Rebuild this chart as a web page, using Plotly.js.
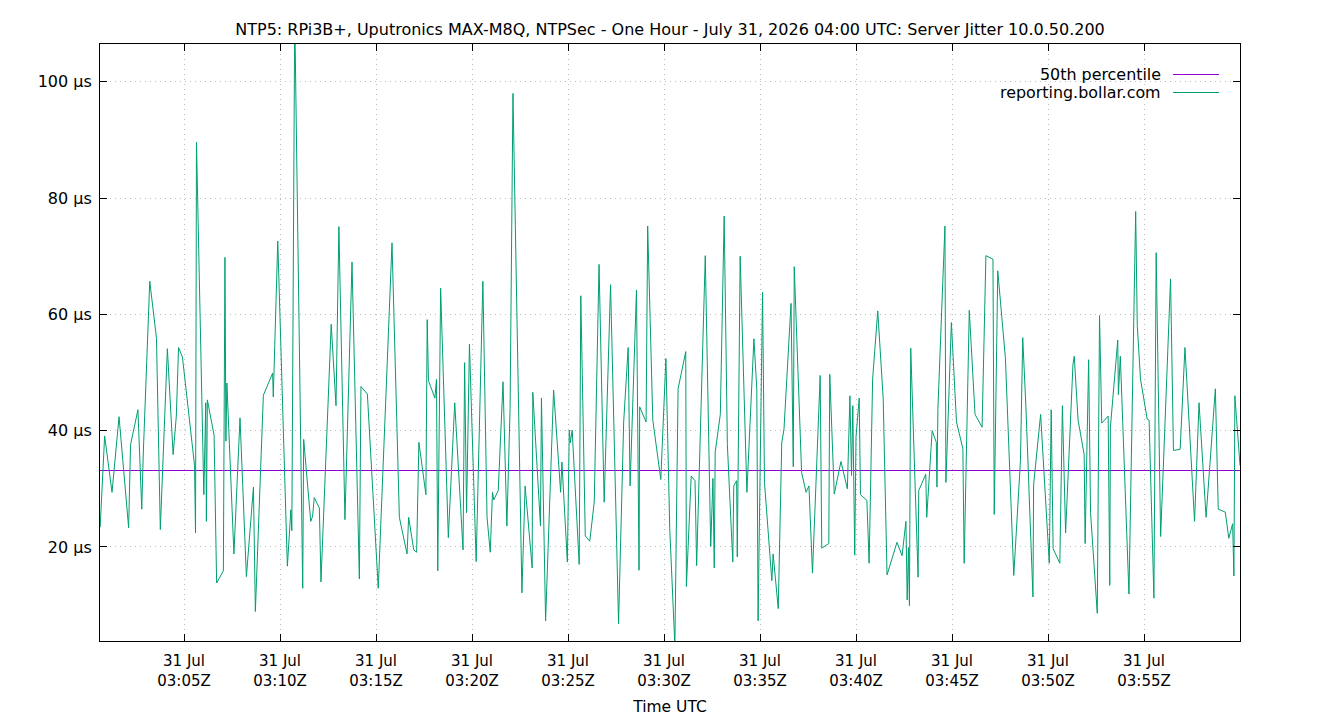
<!DOCTYPE html>
<html>
<head>
<meta charset="utf-8">
<script src="https://cdn.plot.ly/plotly-3.0.1.min.js"></script>
<style>html,body{margin:0;padding:0;background:#fff}#chart{width:1340px;height:720px}</style>
</head>
<body>
<div id="chart"></div>
<script>
const DAY = '2026-07-31 ';
const chartTitle = 'NTP5: RPi3B+, Uputronics MAX-M8Q, NTPSec - One Hour - July 31, 2026 04:00 UTC: Server Jitter 10.0.50.200';
const seriesName = 'reporting.bollar.com';
const percentileName = '50th percentile';
const percentile50 = 33.15;
const rangeStart = '03:00:37.5';
const rangeEnd = '04:00:00';
const xTickTimes = ['03:05','03:10','03:15','03:20','03:25','03:30','03:35','03:40','03:45','03:50','03:55'];
const yTicks = [20, 40, 60, 80, 100];

const times = [
"03:00:38","03:00:52","03:01:15","03:01:37","03:02:07","03:02:13","03:02:36","03:02:48","03:02:53","03:03:13",
"03:03:34","03:03:46","03:04:08","03:04:26","03:04:36","03:04:43","03:04:55","03:05:33","03:05:36","03:05:39",
"03:06:02","03:06:08","03:06:10","03:06:13","03:06:34","03:06:42","03:07:03","03:07:08","03:07:11","03:07:14",
"03:07:36","03:07:55","03:08:15","03:08:37","03:08:43","03:09:08","03:09:37","03:09:39","03:09:53","03:10:23",
"03:10:34","03:10:37","03:10:46","03:11:11","03:11:14","03:11:36","03:11:42","03:11:47","03:12:03","03:12:08",
"03:12:40","03:12:55","03:13:04","03:13:23","03:13:45","03:14:08","03:14:13","03:14:33","03:15:07","03:15:50",
"03:16:13","03:16:37","03:16:42","03:16:58","03:17:07","03:17:14","03:17:36","03:17:40","03:17:44","03:18:04",
"03:18:09","03:18:13","03:18:22","03:18:46","03:19:06","03:19:32","03:19:37","03:19:43","03:19:52","03:20:13",
"03:20:34","03:20:47","03:20:57","03:21:04","03:21:08","03:21:22","03:21:37","03:21:49","03:21:59","03:22:08",
"03:22:36","03:22:46","03:23:08","03:23:10","03:23:34","03:23:37","03:23:50","03:24:15","03:24:37","03:24:41",
"03:24:58","03:25:04","03:25:07","03:25:13","03:25:35","03:25:40","03:25:54","03:26:08","03:26:22","03:26:37",
"03:26:53","03:27:13","03:27:38","03:27:54","03:28:08","03:28:14","03:28:34","03:28:42","03:28:44","03:29:04",
"03:29:09","03:29:25","03:29:50","03:30:06","03:30:18","03:30:34","03:30:44","03:31:08","03:31:10","03:31:25",
"03:31:37","03:31:42","03:32:09","03:32:26","03:32:33","03:32:37","03:32:40","03:32:56","03:33:08","03:33:18",
"03:33:35","03:33:38","03:33:47","03:33:49","03:33:58","03:34:19","03:34:41","03:34:50","03:34:54","03:35:08",
"03:35:14","03:35:37","03:35:41","03:35:57","03:36:08","03:36:15","03:36:37","03:36:44","03:36:47","03:37:10",
"03:37:24","03:37:33","03:37:44","03:38:08","03:38:13","03:38:35","03:38:38","03:38:52","03:39:13","03:39:33",
"03:39:41","03:39:46","03:39:50","03:39:56","03:40:00","03:40:10","03:40:14","03:40:34","03:40:41","03:40:52",
"03:41:08","03:41:25","03:41:37","03:41:56","03:42:08","03:42:24","03:42:36","03:42:40","03:42:44","03:42:47",
"03:42:51","03:43:14","03:43:16","03:43:38","03:43:41","03:43:58","03:44:11","03:44:13","03:44:16","03:44:38",
"03:44:41","03:44:58","03:45:14","03:45:34","03:45:38","03:45:54","03:46:12","03:46:34","03:46:46","03:47:08",
"03:47:12","03:47:23","03:47:47","03:48:13","03:48:34","03:48:41","03:48:51","03:49:13","03:49:15","03:49:37",
"03:50:04","03:50:10","03:50:16","03:50:37","03:50:45","03:50:55","03:51:18","03:51:22","03:51:34","03:51:53",
"03:51:56","03:52:07","03:52:13","03:52:34","03:52:41","03:52:48","03:53:08","03:53:13","03:53:15","03:53:38",
"03:53:40","03:53:46","03:54:08","03:54:13","03:54:34","03:54:39","03:54:49","03:55:10","03:55:16","03:55:31",
"03:55:38","03:55:52","03:56:23","03:56:32","03:56:53","03:57:08","03:57:38","03:57:52","03:58:14","03:58:43",
"03:58:52","03:59:14","03:59:25","03:59:37","03:59:41","03:59:44","04:00:00"
];

const jitterUs = [
23.4, 39.1, 29.4, 42.4, 23.3, 37.6, 43.6, 26.5, 36.5, 65.7,
55.9, 23.0, 54.1, 35.9, 42.5, 54.3, 52.7, 34.0, 22.4, 89.6,
29.0, 44.8, 24.4, 45.3, 39.2, 13.8, 15.9, 69.8, 38.2, 48.2,
18.8, 42.2, 14.9, 30.3, 8.9, 46.1, 49.9, 45.8, 72.6, 16.7,
26.4, 22.8, 112, 12.9, 38.5, 24.4, 25.3, 28.5, 26.7, 14.0,
58.3, 44.3, 75.1, 24.7, 69.0, 14.5, 47.6, 46.3, 12.9, 72.3,
25.1, 18.8, 25.1, 19.5, 19.1, 38.0, 29.0, 59.1, 48.6, 45.6,
48.8, 15.9, 64.5, 21.6, 44.8, 19.5, 51.7, 25.9, 54.9, 17.5,
65.7, 25.1, 19.1, 29.4, 28.1, 29.7, 48.4, 23.6, 43.8, 98.0,
12.1, 30.5, 16.4, 46.6, 23.6, 45.6, 7.3, 47.0, 29.4, 34.6,
17.4, 40.1, 37.9, 40.1, 17.0, 63.2, 21.9, 21.0, 27.7, 68.6,
27.7, 65.1, 6.8, 41.5, 54.3, 30.5, 64.2, 16.0, 44.1, 41.5,
75.2, 41.8, 31.6, 52.4, 23.1, 3.0, 47.2, 53.6, 13.2, 32.2,
31.4, 16.8, 70.1, 20.1, 31.8, 16.4, 36.3, 42.8, 76.9, 37.6,
17.4, 30.5, 31.4, 18.3, 70.0, 29.4, 55.8, 47.1, 7.3, 63.8,
31.1, 14.2, 18.8, 9.4, 37.9, 40.3, 61.9, 33.8, 68.2, 32.8,
29.4, 30.5, 15.5, 49.5, 19.8, 20.6, 49.7, 29.1, 34.7, 30.0,
46.0, 32.3, 44.3, 18.6, 38.9, 45.6, 29.0, 28.0, 17.2, 48.9,
60.6, 45.5, 15.2, 18.8, 20.8, 18.5, 24.4, 10.9, 19.9, 9.9,
54.2, 14.8, 29.7, 32.5, 25.1, 40.0, 38.0, 30.3, 43.8, 75.2,
31.1, 58.6, 41.5, 36.9, 17.2, 60.7, 42.8, 40.6, 70.1, 69.5,
25.6, 67.5, 52.4, 15.1, 34.9, 56.0, 44.1, 11.4, 30.7, 42.8,
17.2, 43.6, 19.7, 17.2, 44.3, 22.4, 51.4, 52.8, 41.8, 35.9,
20.6, 52.2, 25.9, 8.6, 59.8, 41.3, 42.5, 13.4, 40.6, 55.6,
46.2, 52.8, 17.2, 11.9, 77.7, 58.1, 48.9, 42.0, 41.8, 11.2,
70.6, 21.8, 66.1, 36.6, 36.8, 54.3, 24.4, 44.8, 25.1, 47.2,
26.5, 26.0, 21.5, 24.0, 15.0, 46.0, 34.0
];

const GREEN = '#009e73';
const PURPLE = '#9400d3';
const FONT = 'DejaVu Sans, sans-serif';

const xs = times.map(t => DAY + t);
const x0 = DAY + rangeStart, x1 = DAY + rangeEnd;

const traces = [
  {x: [x0, x1], y: [percentile50, percentile50], type: 'scatter', mode: 'lines',
   name: percentileName, line: {color: PURPLE, width: 1}, hoverinfo: 'skip'},
  {x: xs, y: jitterUs, type: 'scatter', mode: 'lines', name: seriesName,
   line: {color: GREEN, width: 1}}
];

const axisCommon = {
  showline: true, linecolor: '#000', linewidth: 1, mirror: 'ticks',
  ticks: 'inside', ticklen: 7, tickcolor: '#000', tickwidth: 1,
  showgrid: true, gridcolor: '#bdbdbd', gridwidth: 1, griddash: '1px,4px',
  zeroline: false
};

const layout = {
  width: 1340, height: 720,
  margin: {l: 100, r: 100, t: 44, b: 79},
  paper_bgcolor: '#fff', plot_bgcolor: '#fff',
  showlegend: false,
  font: {family: FONT, size: 15, color: '#000'},
  title: {text: chartTitle, x: 0.5, xanchor: 'center', y: 1 - 29.5/720, yanchor: 'middle',
          font: {family: FONT, size: 16, color: '#000'}},
  xaxis: Object.assign({}, axisCommon, {
    type: 'date', range: [x0, x1],
    tickmode: 'array', tickvals: xTickTimes.map(t => DAY + t),
    tickformat: '%d %b<br>%H:%MZ', ticklabelstandoff: 6,
    tickfont: {family: FONT, size: 15, color: '#000'},
    title: {text: 'Time UTC', font: {family: FONT, size: 15.5, color: '#000'}, standoff: 12}
  }),
  yaxis: Object.assign({}, axisCommon, {
    range: [3.83, 106.5], tickvals: yTicks, ticktext: yTicks.map(v => v + ' µs'),
    ticklabelstandoff: 4,
    tickfont: {family: FONT, size: 16, color: '#000'}
  }),
  annotations: [
    {xref: 'paper', yref: 'paper', x: (1163-100)/1140, y: (641-74.5)/597, xanchor: 'right', yanchor: 'middle',
     text: percentileName, showarrow: false, font: {family: FONT, size: 15.9, color: '#000'}},
    {xref: 'paper', yref: 'paper', x: (1163-100)/1140, y: (641-92.5)/597, xanchor: 'right', yanchor: 'middle',
     text: seriesName, showarrow: false, font: {family: FONT, size: 15.9, color: '#000'}}
  ],
  shapes: [
    {type: 'line', xref: 'paper', yref: 'paper', x0: (1173-100)/1140, x1: (1219-100)/1140,
     y0: (641-74.5)/597, y1: (641-74.5)/597, line: {color: PURPLE, width: 1}},
    {type: 'line', xref: 'paper', yref: 'paper', x0: (1173-100)/1140, x1: (1219-100)/1140,
     y0: (641-92.5)/597, y1: (641-92.5)/597, line: {color: GREEN, width: 1}}
  ]
};

Plotly.newPlot('chart', traces, layout, {staticPlot: true, displayModeBar: false});
</script>
</body>
</html>
